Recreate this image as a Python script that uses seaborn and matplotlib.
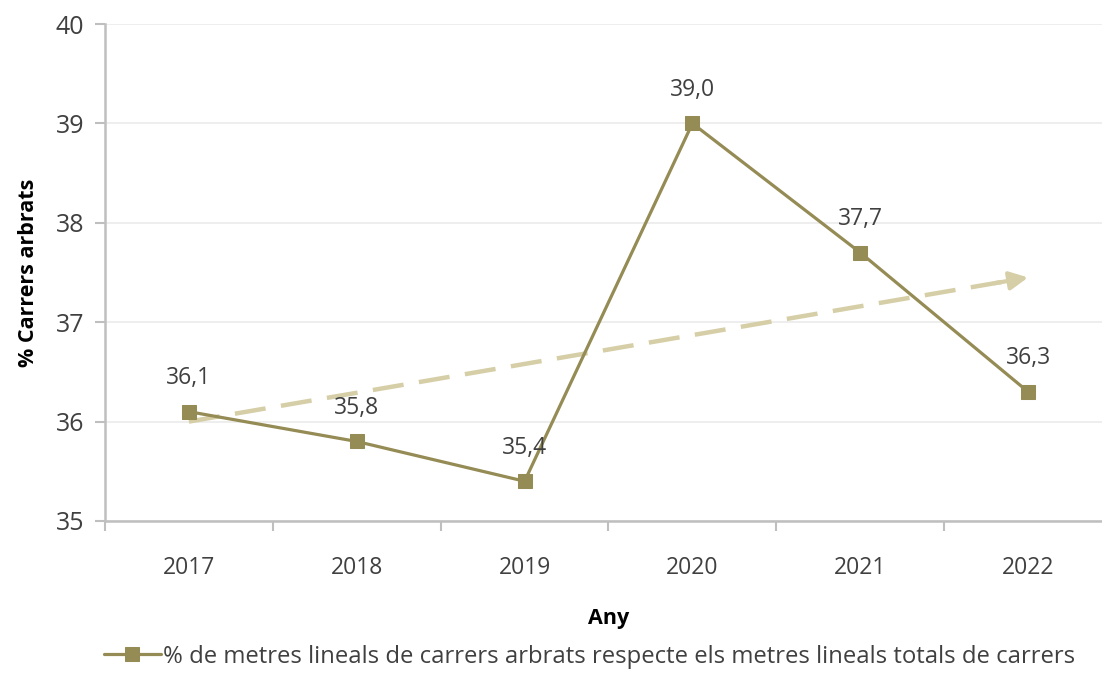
import pandas as pd
import matplotlib.pyplot as plt
import seaborn as sns

years = ['2017', '2018', '2019', '2020', '2021', '2022']
pct_values = [36.1, 35.8, 35.4, 39.0, 37.7, 36.3]
trend_ends = [36.0, 37.45]   # tendencia lineal, inici i final
y_ticks = [35, 36, 37, 38, 39, 40]

series_label = '% de metres lineals de carrers arbrats respecte els metres lineals totals de carrers'

line_color = '#958b55'
trend_color = '#d5cea6'
text_color = '#404040'
axis_color = '#bfbfbf'

df = pd.DataFrame({'year': years, 'value': pct_values})
df['pos'] = range(len(years))

sns.set_style('white')
plt.rcParams['font.family'] = ['Open Sans', 'DejaVu Sans']

fig = plt.figure(figsize=(11.02, 6.77), dpi=100)
ax = fig.add_axes([105 / 1102, 156 / 677, 1007 / 1102, 497 / 677])

# linia de tendencia discontinua amb punta de fletxa
last = len(years) - 1
frac = 0.97
ax.plot([0, last * frac], [trend_ends[0], trend_ends[0] + (trend_ends[1] - trend_ends[0]) * frac],
        color=trend_color, lw=3.2, linestyle=(0, (7, 3.5)), zorder=2)
ax.annotate('', xy=(last, trend_ends[1]),
            xytext=(last * 0.96, trend_ends[0] + (trend_ends[1] - trend_ends[0]) * 0.96),
            arrowprops=dict(arrowstyle='-|>,head_length=1.1,head_width=0.55',
                            color=trend_color, lw=3, shrinkA=0, shrinkB=0), zorder=2)

sns.lineplot(data=df, x='pos', y='value', ax=ax, color=line_color, linewidth=2.3,
             marker='s', markersize=10, markeredgecolor=line_color,
             label=series_label, legend=False, zorder=3)

for i, v in enumerate(pct_values):
    ax.annotate(f'{v:.1f}'.replace('.', ','), (i, v), xytext=(0, 24),
                textcoords='offset points', ha='center', va='center',
                fontsize=16.5, color=text_color)

ax.set_xlim(-0.5, len(years) - 0.5)
ax.set_ylim(35, 40)
ax.set_yticks(y_ticks)
ax.set_xticks(range(len(years)))
ax.set_xticklabels(years)
ax.set_xticks([i - 0.5 for i in range(len(years) + 1)], minor=True)
ax.tick_params(axis='x', which='major', bottom=False, pad=22, labelsize=16.5, labelcolor=text_color)
ax.tick_params(axis='x', which='minor', bottom=True, length=7, width=1.5, color=axis_color,
               direction='out')
ax.tick_params(axis='y', left=True, length=7, width=1.5, color=axis_color, pad=8,
               labelsize=18, labelcolor=text_color)

ax.yaxis.grid(True, color='#ebebeb', linewidth=1.2)
ax.set_axisbelow(True)
for side in ['top', 'right']:
    ax.spines[side].set_visible(False)
for side in ['left', 'bottom']:
    ax.spines[side].set_color(axis_color)
    ax.spines[side].set_linewidth(1.8)

ax.set_xlabel('Any', fontsize=15.5, fontweight='bold', color='black', labelpad=20)
ax.set_ylabel('% Carrers arbrats', fontsize=15.5, fontweight='bold', color='black', labelpad=12)

handles, labels = ax.get_legend_handles_labels()
fig.legend(handles, labels, loc='center', bbox_to_anchor=(0.535, 0.03), frameon=False,
           fontsize=17.2, handlelength=2.4, handletextpad=0.1, labelcolor=text_color)

fig.savefig('out.png', dpi=100)
